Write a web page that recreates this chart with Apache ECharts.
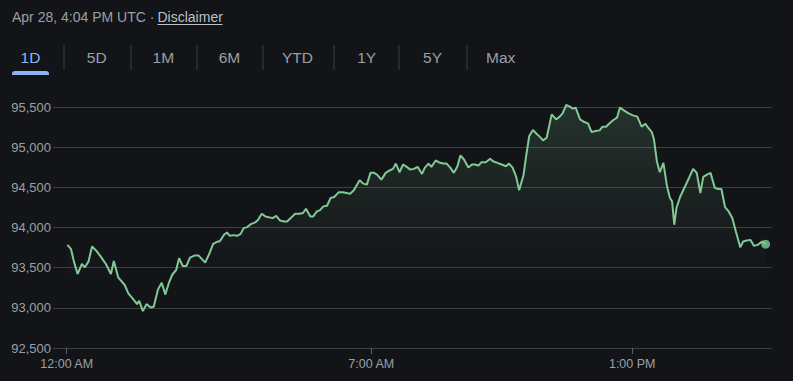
<!DOCTYPE html>
<html>
<head>
<meta charset="utf-8">
<script src="https://cdn.jsdelivr.net/npm/echarts@6/dist/echarts.min.js"></script>
<style>
  html, body { margin: 0; padding: 0; background: #131418; }
  #chart { width: 793px; height: 381px; }
</style>
</head>
<body>
<div id="chart"></div>
<script>
// Minutes since midnight (UTC) of each sampled point
const times = [1,6,10,15,21,25,30,35,41,48,54,61,65,71,80,85,92,97,100,105,110,116,120,126,131,136,141,146,151,155,160,165,170,176,182,191,197,202,208,211,217,221,225,230,235,240,244,249,254,260,264,269,274,
  284,289,294,300,304,309,315,321,326,330,336,340,345,349,354,359,364,369,375,381,386,391,396,404,409,414,419,424,428,434,440,446,450,454,459,464,469,474,479,484,490,494,499,503,509,515,519,524,529,534,539,543,548,554,559,563,568,572,578,584,588,594,600,606,610,615,620,624,
  630,634,638,643,648,653,657,662,669,675,680,684,689,694,698,702,708,714,719,724,729,735,739,744,748,754,759,763,769,775,781,787,793,798,802,807,810,814,818,823,828,832,835,838,841,846,853,859,864,869,874,878,883,888,894,899,903,908,913,918,923,929,933,938,943,948,953,959,964];
// Price (USD) at each sampled point
const prices = [93784,93730,93575,93421,93546,93505,93575,93763,93709,93625,93546,93421,93584,93380,93284,93180,93105,93046,93088,92959,93046,93005,93013,93230,93313,93167,93313,93418,93471,93617,93521,93521,93625,93650,93650,93563,93680,93796,93825,93825,93909,93938,93896,93905,93896,93921,93992,94005,94042,94063,94096,94171,94138,
  94117,94146,94088,94075,94075,94117,94171,94171,94180,94234,94138,94138,94200,94213,94263,94271,94367,94380,94438,94438,94430,94421,94463,94588,94546,94534,94680,94680,94659,94596,94680,94713,94730,94796,94688,94784,94755,94721,94730,94755,94667,94746,94796,94755,94834,94805,94796,94796,94746,94680,94763,94896,94846,94746,94784,94784,94771,94813,94813,94855,94825,94805,94784,94763,94796,94746,94630,94463,
  94650,94909,95140,95213,95167,95125,95084,95117,95409,95346,95380,95421,95525,95505,95480,95492,95346,95313,95296,95188,95200,95209,95255,95255,95292,95338,95367,95492,95455,95421,95396,95380,95255,95292,95242,95188,95096,94825,94688,94805,94513,94367,94325,94034,94242,94380,94513,94630,94730,94680,94430,94630,94659,94680,94492,94480,94480,94255,94200,94117,93950,93755,93825,93838,93846,93771,93784,93825,93792];
// X-axis ticks (minutes) and their labels
const xTickValues = [0, 420, 780];
const xTickLabels = ['12:00 AM', '7:00 AM', '1:00 PM'];
// Y-axis range
const yMin = 92500, yMax = 95500, yStep = 500;
// Header texts
const headerTime = 'Apr 28, 4:04 PM UTC · ';
const headerLink = 'Disclaimer';
const tabs = ['1D', '5D', '1M', '6M', 'YTD', '1Y', '5Y', 'Max'];

const FONT = '"Liberation Sans", Arial, sans-serif';
const tabCenters = [30.5, 96.7, 163.3, 229.5, 297.5, 366.7, 432.5, 500.7];
const sepX = [63.5, 130.5, 196.5, 262.5, 333.5, 398.5, 466.5];

const graphics = [];
graphics.push({ type: 'text', left: 12, top: 10, style: { text: headerTime, fill: '#9aa0a6', font: '14px ' + FONT } });
graphics.push({ type: 'text', left: 157.5, top: 10, style: { text: headerLink, fill: '#bdc1c6', font: '14px ' + FONT } });
graphics.push({ type: 'rect', shape: { x: 157.5, y: 24, width: 65, height: 1 }, style: { fill: '#bdc1c6' } });
tabs.forEach((t, i) => {
  graphics.push({ type: 'text', x: tabCenters[i], y: 57.5,
    style: { text: t, fill: i === 0 ? '#8ab4f8' : '#9aa0a6', font: '15.5px ' + FONT, align: 'center', verticalAlign: 'middle' } });
});
sepX.forEach(x => {
  graphics.push({ type: 'rect', shape: { x: x, y: 45, width: 1, height: 25 }, style: { fill: '#3c4043' } });
});
graphics.push({ type: 'rect', shape: { x: 12, y: 71, width: 37, height: 4, r: [3, 3, 0, 0] }, style: { fill: '#8ab4f8' } });

const lineData = times.map((t, i) => [t, prices[i]]);
const last = lineData[lineData.length - 1];

const chart = echarts.init(document.getElementById('chart'), null, { renderer: 'svg' });
chart.setOption({
  backgroundColor: '#131418',
  animation: false,
  graphic: graphics,
  grid: { left: 53, right: 21, top: 107, bottom: 33, containLabel: false },
  xAxis: {
    type: 'value',
    min: -18.9, max: 972.8,
    axisLine: { show: false },
    splitLine: { show: false },
    axisTick: { show: true, customValues: xTickValues, length: 6, lineStyle: { color: '#5f6368' } },
    axisLabel: {
      customValues: xTickValues, color: '#9aa0a6', fontSize: 12.5, fontFamily: FONT, margin: 9,
      formatter: v => { const k = xTickValues.indexOf(v); return k >= 0 ? xTickLabels[k] : ''; }
    }
  },
  yAxis: {
    type: 'value',
    min: yMin, max: yMax, interval: yStep,
    axisLine: { show: false }, axisTick: { show: false },
    splitLine: { show: true, lineStyle: { color: '#3c4043', width: 1 } },
    axisLabel: { color: '#9aa0a6', fontSize: 13, fontFamily: FONT, margin: 2,
      formatter: v => v.toLocaleString('en-US') }
  },
  series: [
    {
      type: 'line', data: lineData, showSymbol: false, clip: false, smooth: false,
      lineStyle: { color: '#81c995', width: 2 },
      itemStyle: { color: '#81c995' },
      areaStyle: {
        origin: 'start',
        color: new echarts.graphic.LinearGradient(0, 0, 0, 1, [
          { offset: 0, color: 'rgba(129,201,149,0.24)' },
          { offset: 0.45, color: 'rgba(129,201,149,0.08)' },
          { offset: 0.72, color: 'rgba(129,201,149,0)' },
          { offset: 1, color: 'rgba(129,201,149,0)' }
        ])
      }
    },
    {
      type: 'scatter', data: [last], symbolSize: 9, clip: false,
      itemStyle: { color: '#81c995' }, z: 5
    }
  ]
});
</script>
</body>
</html>
